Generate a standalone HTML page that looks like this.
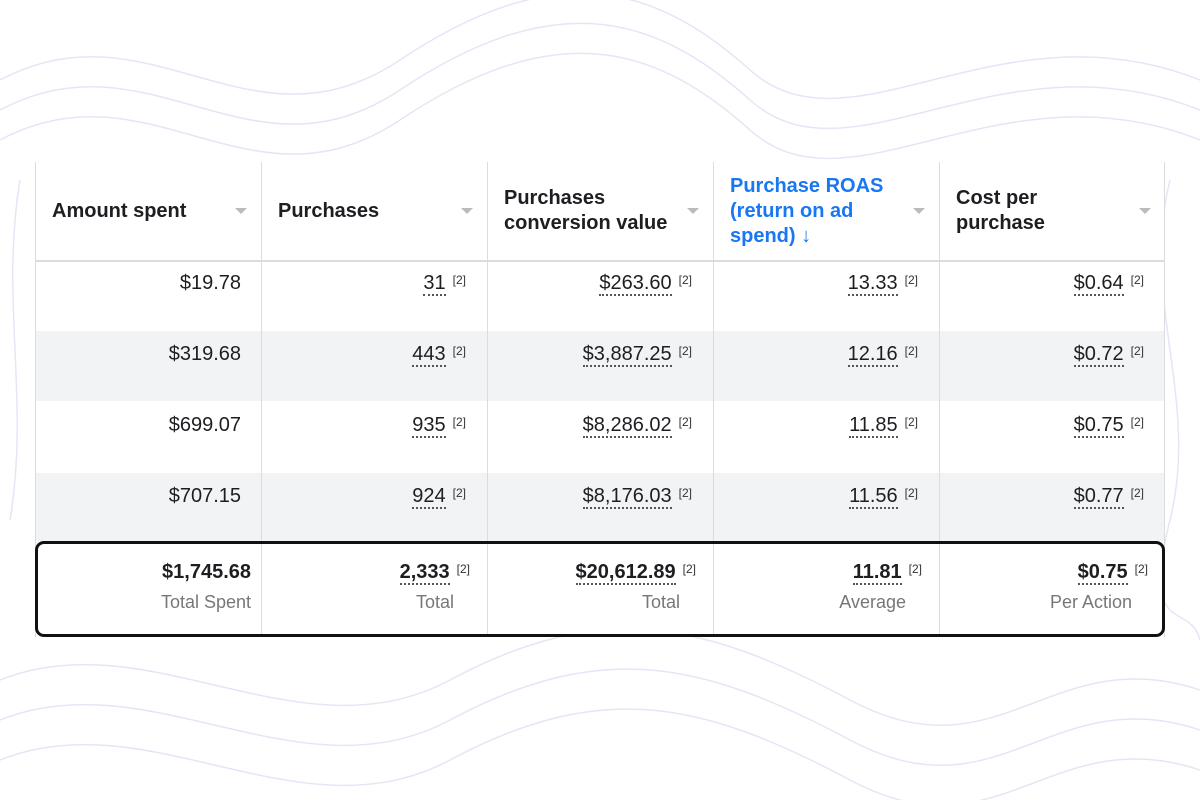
<!DOCTYPE html>
<html><head><style>
body{margin:0;width:1200px;height:800px;background:#fff;position:relative;overflow:hidden;font-family:"Liberation Sans",Arial,sans-serif;}
.c{position:absolute;box-sizing:border-box;width:226px;border-left:1px solid #dcdcdc;}
.h{font-weight:bold;font-size:20px;color:#1c1e21;line-height:25px;padding-left:16px;display:flex;align-items:center;height:98px;border-bottom:2px solid #dcdcdc}
.car{position:absolute;right:14px;top:46px;width:0;height:0;border-left:6px solid transparent;border-right:6px solid transparent;border-top:6px solid #bbb}
.v{position:absolute;font-size:20px;color:#1c1e21;text-align:right}
.u{border-bottom:2px dotted #555;line-height:22px}
.s{font-size:12px;position:relative;top:-5px;margin-left:7px;color:#333}
.lab{position:absolute;font-size:18px;color:#777;text-align:right}
</style></head><body>
<svg style="position:absolute;left:0;top:0" width="1200" height="800">
<g fill="none" stroke="#e8e4f6" stroke-width="1.5">
<path d="M0 140 C150 60 250 220 400 120 S650 40 750 130 S1000 60 1200 140"/>
<path d="M0 110 C150 30 250 190 400 90 S650 10 750 100 S1000 30 1200 110"/>
<path d="M0 80 C150 0 250 160 400 60 S650 -20 750 70 S1000 0 1200 80"/>
<path d="M0 680 C150 620 300 760 450 680 S700 620 850 700 S1050 640 1200 690"/>
<path d="M0 720 C150 660 300 800 450 720 S700 660 850 740 S1050 680 1200 730"/>
<path d="M0 760 C150 700 300 840 450 760 S700 700 850 780 S1050 720 1200 770"/>
<path d="M1170 180 C1140 300 1200 400 1170 520 S1190 600 1200 640"/>
<path d="M20 180 C0 300 30 400 10 520"/>
</g></svg>
<div style="position:absolute;left:35px;top:162px;width:1130px;height:475px;background:#fff"></div>
<div style="position:absolute;left:35px;top:331px;width:1130px;height:70px;background:#f2f3f5"></div>
<div style="position:absolute;left:35px;top:473px;width:1130px;height:68px;background:#f2f3f5"></div>
<div id="cols"></div>
<div style="position:absolute;left:35px;top:541px;width:1130px;height:96px;box-sizing:border-box;border:3px solid #111;border-radius:9px"></div>
<script>
const H=["Amount spent","Purchases","Purchases<br>conversion value","Purchase ROAS<br>(return on ad<br>spend) ↓","Cost per<br>purchase"];
const D=[["$19.78","$319.68","$699.07","$707.15"],["31","443","935","924"],["$263.60","$3,887.25","$8,286.02","$8,176.03"],["13.33","12.16","11.85","11.56"],["$0.64","$0.72","$0.75","$0.77"]];
const T=["$1,745.68","2,333","$20,612.89","11.81","$0.75"],L=["Total Spent","Total","Total","Average","Per Action"];
const ys=[272,343,414,485];let h="";
for(let i=0;i<5;i++){const x=35+226*i;
h+=`<div class="c" style="left:${x}px;top:162px;height:475px;">${''}<div class="h" style="${i==3?'color:#1877f2':''}">${H[i]}</div><div class="car"></div></div>`;
for(let r=0;r<4;r++){
 if(i==0) h+=`<div class="v" style="right:${1200-241}px;top:${ys[r]}px">${D[i][r]}</div>`;
 else h+=`<div class="v" style="right:${1200-(x+226-21)}px;top:${ys[r]}px"><span class="u">${D[i][r]}</span><span class="s">[2]</span></div>`;}
 if(i==0) h+=`<div class="v" style="right:${1200-251}px;top:561px;font-weight:bold">${T[i]}</div>`;
 else h+=`<div class="v" style="right:${1200-(x+226-17)}px;top:561px;font-weight:bold"><span class="u">${T[i]}</span><span class="s" style="font-weight:normal">[2]</span></div>`;
 h+=`<div class="lab" style="right:${1200-(x+226-(i==0?10:33))}px;top:592px">${L[i]}</div>`;
}
h+=`<div style="position:absolute;left:1164px;top:162px;width:1px;height:475px;background:#dcdcdc"></div>`;
document.getElementById("cols").innerHTML=h;
</script>
</body></html>
